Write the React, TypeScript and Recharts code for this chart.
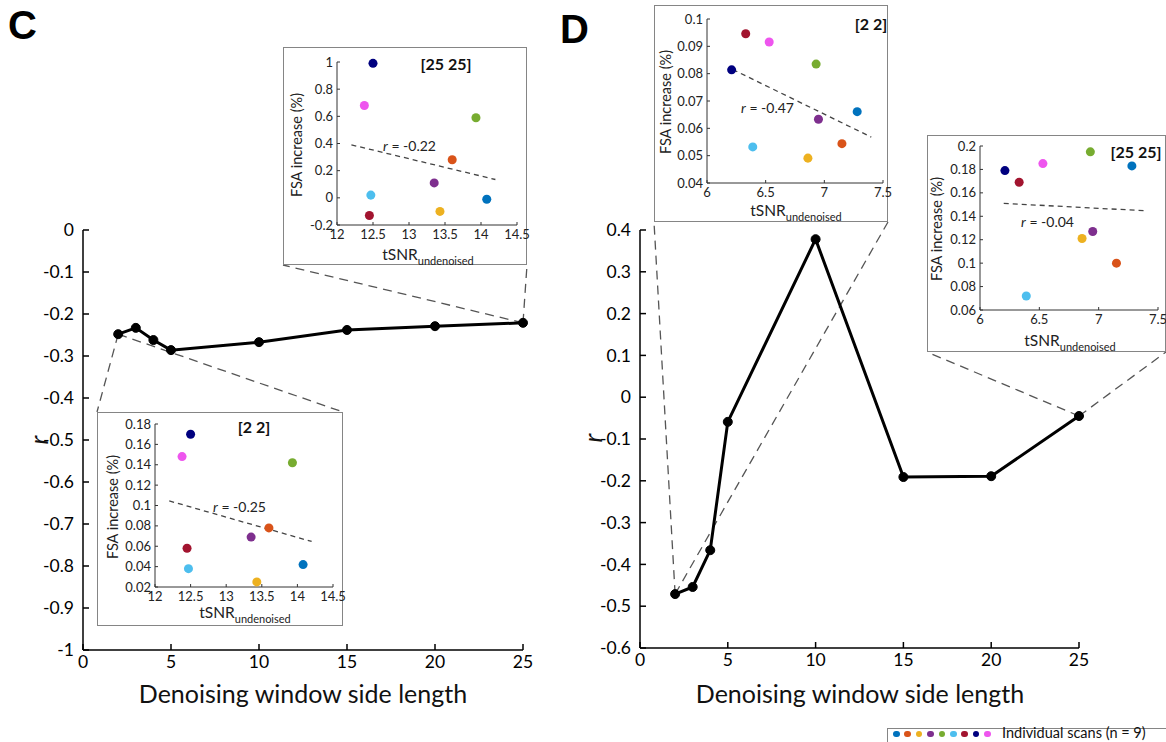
import React from 'react';
import {
    LineChart,
    Line,
    XAxis,
    YAxis,
    ScatterChart,
    Scatter,
    ZAxis,
    Cell,
    ReferenceLine
} from 'recharts';

const FONT = 'Lato, "Open Sans", sans-serif';

// the nine scans, in legend order
const scanColors = ['#0072bd', '#d95319', '#edb120', '#7e2f8e', '#77ac30', '#4dbeee', '#a2142f', '#00007f', '#ee55ee'];

// main curves
const windowSizes = [2, 3, 4, 5, 10, 15, 20, 25];
const rLeft = [-0.248, -0.233, -0.262, -0.286, -0.267, -0.238, -0.229, -0.221];
const rRight = [-0.471, -0.454, -0.366, -0.059, 0.378, -0.191, -0.189, -0.045];
const windowTicks = [0, 5, 10, 15, 20, 25];
const rLeftTicks = [-1, -0.9, -0.8, -0.7, -0.6, -0.5, -0.4, -0.3, -0.2, -0.1, 0];
const rRightTicks = [-0.6, -0.5, -0.4, -0.3, -0.2, -0.1, 0, 0.1, 0.2, 0.3, 0.4];

// insets, panel C
const tsnrLeft = [14.08, 13.6, 13.43, 13.35, 13.93, 12.47, 12.45, 12.5, 12.38];
const fsaLeft22 = [0.042, 0.078, 0.025, 0.069, 0.142, 0.038, 0.058, 0.17, 0.148];
const fsaLeft2525 = [-0.01, 0.28, -0.1, 0.11, 0.59, 0.02, -0.13, 0.99, 0.68];
const trendLeft22 = [{ x: 12.2, y: 0.1045 }, { x: 14.2, y: 0.0647 }];
const trendLeft2525 = [{ x: 12.2, y: 0.39 }, { x: 14.2, y: 0.135 }];
const tsnrLeftTicks = [12, 12.5, 13, 13.5, 14, 14.5];
const fsaLeft22Ticks = [0.02, 0.04, 0.06, 0.08, 0.1, 0.12, 0.14, 0.16, 0.18];
const fsaLeft2525Ticks = [-0.2, 0, 0.2, 0.4, 0.6, 0.8, 1];

// insets, panel D
const tsnrRight = [7.28, 7.15, 6.86, 6.95, 6.93, 6.39, 6.33, 6.21, 6.53];
const fsaRight22 = [0.0661, 0.0544, 0.0491, 0.0633, 0.0835, 0.0532, 0.0946, 0.0814, 0.0916];
const fsaRight2525 = [0.183, 0.1, 0.121, 0.127, 0.195, 0.072, 0.169, 0.179, 0.185];
const trendRight22 = [{ x: 6.22, y: 0.0815 }, { x: 7.4, y: 0.0568 }];
const trendRight2525 = [{ x: 6.2, y: 0.151 }, { x: 7.38, y: 0.1448 }];
const tsnrRightTicks = [6, 6.5, 7, 7.5];
const fsaRight22Ticks = [0.04, 0.05, 0.06, 0.07, 0.08, 0.09, 0.1];
const fsaRight2525Ticks = [0.06, 0.08, 0.1, 0.12, 0.14, 0.16, 0.18, 0.2];

interface Box { left: number; top: number; width: number; height: number }

const boxC2525: Box = { left: 283, top: 47, width: 244, height: 218 };
const boxC22: Box = { left: 97, top: 412, width: 246, height: 214 };
const boxD22: Box = { left: 654, top: 5, width: 234, height: 217 };
const boxD2525: Box = { left: 927, top: 135, width: 239, height: 217 };

const bottomCorners = (b: Box) => [[b.left, b.top + b.height], [b.left + b.width, b.top + b.height]];
const topCorners = (b: Box) => [[b.left, b.top], [b.left + b.width, b.top]];

interface Plot { left: number; right: number; top: number; bottom: number }

interface IPanelProps {
    left: number,
    width: number,
    r: number[],
    yDomain: [number, number],
    yTicks: number[],
    plot: Plot,
    links: { idx: number, corners: number[][] }[]
}

const MainPanel = ({ left, width, r, yDomain, yTicks, plot, links }: IPanelProps) => {
    const data = windowSizes.map((w, i) => ({ w, r: r[i] }));
    const toData = (px: number, py: number) => ({
        x: ((px - plot.left) / (plot.right - plot.left)) * 25,
        y: yDomain[1] - ((py - plot.top) / (plot.bottom - plot.top)) * (yDomain[1] - yDomain[0])
    });
    return <div style={{ position: 'absolute', left, top: 0 }}>
        <LineChart
            width={width}
            height={742}
            data={data}
            margin={{ top: plot.top, right: left + width - plot.right, bottom: 0, left: 0 }}
        >
            <XAxis
                dataKey="w"
                type="number"
                domain={[0, 25]}
                ticks={windowTicks}
                interval={0}
                height={742 - plot.bottom}
                axisLine={{ stroke: '#000', strokeWidth: 1.5 }}
                tickLine={{ stroke: '#000', strokeWidth: 1.5 }}
                tickSize={-6}
                tickMargin={12}
                tick={{ fill: '#000', fontSize: 17.5 }}
            />
            <YAxis
                type="number"
                domain={yDomain}
                ticks={yTicks}
                interval={0}
                width={plot.left - left}
                axisLine={{ stroke: '#000', strokeWidth: 1.5 }}
                tickLine={{ stroke: '#000', strokeWidth: 1.5 }}
                tickSize={-6}
                tickMargin={15}
                tick={{ fill: '#000', fontSize: 17.5 }}
            />
            {links.flatMap((l, k) => l.corners.map((c, j) => <ReferenceLine
                key={`${k}-${j}`}
                segment={[{ x: windowSizes[l.idx], y: r[l.idx] }, toData(c[0], c[1])]}
                ifOverflow="visible"
                stroke="#555"
                strokeWidth={1.3}
                strokeDasharray="9 6"
            />))}
            <Line
                dataKey="r"
                stroke="#000"
                strokeWidth={3}
                dot={{ r: 4.5, fill: '#000', stroke: '#000', strokeWidth: 1 }}
                isAnimationActive={false}
            />
        </LineChart>
    </div>;
};

interface IInsetProps {
    box: Box,
    axisLeft: number,
    mTop: number,
    mRight: number,
    mBottom: number,
    tsnr: number[],
    fsa: number[],
    xDomain: [number, number],
    xTicks: number[],
    yDomain: [number, number],
    yTicks: number[],
    trend: { x: number, y: number }[],
    title: string,
    titleX: number,
    titleY: number,
    rText: string,
    rX: number,
    rY: number,
    yLabelX: number,
    xLabelY: number
}

const Inset = (p: IInsetProps) => {
    const data = p.tsnr.map((t, i) => ({ t, f: p.fsa[i] }));
    const plotCx = p.axisLeft + (p.box.width - p.axisLeft - p.mRight) / 2;
    const plotCy = p.mTop + (p.box.height - p.mTop - p.mBottom) / 2;
    return <div style={{
        position: 'absolute', left: p.box.left, top: p.box.top, width: p.box.width, height: p.box.height,
        border: '1.5px solid #858585', boxSizing: 'border-box', background: '#fff'
    }}>
        <div style={{ position: 'absolute', left: -1.5, top: -1.5 }}>
            <ScatterChart
                width={p.box.width}
                height={p.box.height}
                margin={{ top: p.mTop, right: p.mRight, bottom: 0, left: 0 }}
            >
                <XAxis
                    dataKey="t"
                    type="number"
                    domain={p.xDomain}
                    ticks={p.xTicks}
                    interval={0}
                    height={p.mBottom}
                    axisLine={{ stroke: '#333' }}
                    tickLine={{ stroke: '#333' }}
                    tickSize={-3}
                    tickMargin={8}
                    tick={{ fill: '#222', fontSize: 13 }}
                />
                <YAxis
                    dataKey="f"
                    type="number"
                    domain={p.yDomain}
                    ticks={p.yTicks}
                    interval={0}
                    width={p.axisLeft}
                    axisLine={{ stroke: '#333' }}
                    tickLine={{ stroke: '#333' }}
                    tickSize={-3}
                    tickMargin={7}
                    tick={{ fill: '#222', fontSize: 13 }}
                />
                <ZAxis range={[44, 44]} />
                <ReferenceLine segment={p.trend} stroke="#444" strokeWidth={1.3} strokeDasharray="5 4" />
                <Scatter data={data} isAnimationActive={false}>
                    {data.map((d, i) => <Cell key={i} fill={scanColors[i]} />)}
                </Scatter>
            </ScatterChart>
        </div>
        <div style={{
            position: 'absolute', left: p.titleX, top: p.titleY, transform: 'translate(-50%, -50%)',
            fontWeight: 700, fontSize: 16, whiteSpace: 'nowrap', color: '#111'
        }}>{p.title}</div>
        <div style={{
            position: 'absolute', left: p.rX, top: p.rY, transform: 'translateY(-50%)',
            fontSize: 14, whiteSpace: 'nowrap', color: '#222'
        }}><i>r</i> = {p.rText}</div>
        <div style={{
            position: 'absolute', left: p.yLabelX, top: plotCy, transform: 'translate(-50%, -50%) rotate(-90deg)',
            fontSize: 14.5, whiteSpace: 'nowrap', color: '#222'
        }}>FSA increase (%)</div>
        <div style={{
            position: 'absolute', left: plotCx, top: p.xLabelY, transform: 'translate(-50%, -50%)',
            fontSize: 15.5, whiteSpace: 'nowrap', color: '#222'
        }}>tSNR<sub style={{ fontSize: 11 }}>undenoised</sub></div>
    </div>;
};

const XTitle = ({ cx }: { cx: number }) => <div style={{
    position: 'absolute', left: cx, top: 693, transform: 'translate(-50%, -50%)',
    fontSize: 25, whiteSpace: 'nowrap', color: '#111'
}}>Denoising window side length</div>;

const YTitle = ({ cx, cy }: { cx: number, cy: number }) => <div style={{
    position: 'absolute', left: cx, top: cy, transform: 'translate(-50%, -50%) rotate(-90deg)',
    fontSize: 26, fontStyle: 'italic', color: '#111'
}}>r</div>;

const PanelLetter = ({ x, y, text }: { x: number, y: number, text: string }) => <div style={{
    position: 'absolute', left: x, top: y, fontFamily: '"Liberation Sans", Arial, sans-serif',
    fontWeight: 700, fontSize: 40, lineHeight: 1, color: '#000'
}}>{text}</div>;

const App = () => <div style={{
    position: 'absolute', left: 0, top: 0, width: 1166, height: 742, overflow: 'hidden',
    background: '#fff', fontFamily: FONT
}}>
    <style>{'.recharts-wrapper, .recharts-surface { overflow: visible !important; }'}</style>
    <MainPanel
        left={0}
        width={560}
        r={rLeft}
        yDomain={[-1, 0]}
        yTicks={rLeftTicks}
        plot={{ left: 83, right: 523, top: 230, bottom: 650 }}
        links={[{ idx: 7, corners: bottomCorners(boxC2525) }, { idx: 0, corners: topCorners(boxC22) }]}
    />
    <MainPanel
        left={560}
        width={606}
        r={rRight}
        yDomain={[-0.6, 0.4]}
        yTicks={rRightTicks}
        plot={{ left: 640, right: 1079, top: 230, bottom: 648 }}
        links={[{ idx: 0, corners: bottomCorners(boxD22) }, { idx: 7, corners: bottomCorners(boxD2525) }]}
    />
    <XTitle cx={303} />
    <XTitle cx={860} />
    <YTitle cx={38} cy={440} />
    <YTitle cx={592} cy={438} />
    <PanelLetter x={8} y={5} text="C" />
    <PanelLetter x={560} y={9} text="D" />

    <Inset box={boxC2525} axisLeft={54} mTop={15} mRight={10} mBottom={40}
        tsnr={tsnrLeft} fsa={fsaLeft2525} xDomain={[12, 14.5]} xTicks={tsnrLeftTicks}
        yDomain={[-0.2, 1]} yTicks={fsaLeft2525Ticks} trend={trendLeft2525}
        title="[25 25]" titleX={162} titleY={15} rText="-0.22" rX={99} rY={97} yLabelX={12} xLabelY={208} />
    <Inset box={boxC22} axisLeft={58} mTop={12} mRight={10} mBottom={39}
        tsnr={tsnrLeft} fsa={fsaLeft22} xDomain={[12, 14.5]} xTicks={tsnrLeftTicks}
        yDomain={[0.02, 0.18]} yTicks={fsaLeft22Ticks} trend={trendLeft22}
        title="[2 2]" titleX={156} titleY={13} rText="-0.25" rX={115} rY={93} yLabelX={14} xLabelY={201} />
    <Inset box={boxD22} axisLeft={53} mTop={14} mRight={5} mBottom={39}
        tsnr={tsnrRight} fsa={fsaRight22} xDomain={[6, 7.5]} xTicks={tsnrRightTicks}
        yDomain={[0.04, 0.1]} yTicks={fsaRight22Ticks} trend={trendRight22}
        title="[2 2]" titleX={216} titleY={17} rText="-0.47" rX={86} rY={101} yLabelX={10} xLabelY={206} />
    <Inset box={boxD2525} axisLeft={53} mTop={11} mRight={8} mBottom={42}
        tsnr={tsnrRight} fsa={fsaRight2525} xDomain={[6, 7.5]} xTicks={tsnrRightTicks}
        yDomain={[0.06, 0.2]} yTicks={fsaRight2525Ticks} trend={trendRight2525}
        title="[25 25]" titleX={208} titleY={15} rText="-0.04" rX={93} rY={85} yLabelX={8} xLabelY={206} />

    <div style={{
        position: 'absolute', left: 887, top: 728, width: 290, height: 24,
        border: '1.5px solid #858585', boxSizing: 'border-box', background: '#fff'
    }}>
        {scanColors.map((c, i) => <span key={c} style={{
            position: 'absolute', left: 5 + i * 11.4, top: 1.5, width: 6.5, height: 6.5,
            borderRadius: '50%', background: c
        }} />)}
        <span style={{
            position: 'absolute', left: 114, top: -4, fontSize: 14.5, lineHeight: '16px',
            whiteSpace: 'nowrap', color: '#111'
        }}>Individual scans (n = 9)</span>
    </div>
</div>;

export default App;
